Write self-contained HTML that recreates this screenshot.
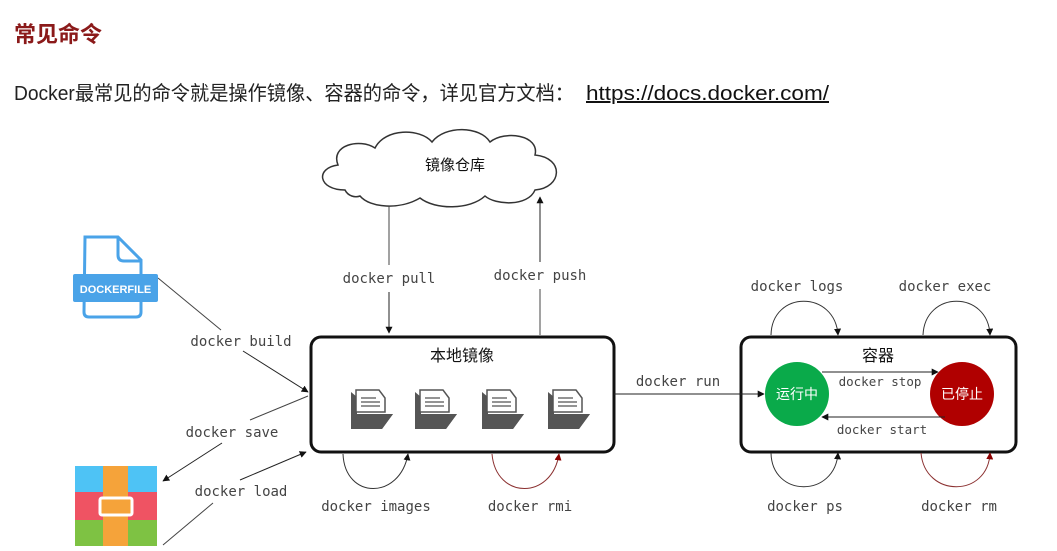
<!DOCTYPE html>
<html><head><meta charset="utf-8"><style>
body{margin:0;background:#fff;width:1057px;height:546px;overflow:hidden;font-family:"Liberation Sans","Noto Sans CJK SC",sans-serif}
</style></head><body>
<svg width="1057" height="546" viewBox="0 0 1057 546" xmlns="http://www.w3.org/2000/svg">
<defs>
<marker id="a" viewBox="0 0 10 10" refX="9" refY="5" markerWidth="7" markerHeight="7" orient="auto"><path d="M0,0L10,5L0,10z" fill="#111"/></marker>
<marker id="r" viewBox="0 0 10 10" refX="9" refY="5" markerWidth="7" markerHeight="7" orient="auto"><path d="M0,0L10,5L0,10z" fill="#8b0000"/></marker>
</defs>
<text x="14" y="42" font-size="22" font-weight="bold" fill="#8b1a1a" font-family="Liberation Sans,Noto Sans CJK SC,sans-serif">常见命令</text>
<text x="14" y="100" font-size="20" fill="#222" font-family="Liberation Sans,Noto Sans CJK SC,sans-serif" textLength="560" lengthAdjust="spacingAndGlyphs">Docker最常见的命令就是操作镜像、容器的命令，详见官方文档：</text>
<text x="586" y="100" font-size="20" fill="#111" text-decoration="underline" font-family="Liberation Sans,sans-serif" textLength="243" lengthAdjust="spacingAndGlyphs">https://docs.docker.com/</text>
<!-- cloud -->
<path d="M345,190 C318,190 315,168 338,165 C330,145 360,138 375,148 C385,128 420,128 432,142 C445,125 480,126 490,142 C505,130 540,135 535,155 C565,158 562,188 535,190 C528,207 495,205 485,196 C470,210 435,210 420,198 C400,210 370,208 360,196 C355,198 348,196 345,190 Z" fill="#fff" stroke="#333" stroke-width="1.5"/>
<text x="455" y="170" font-size="15" text-anchor="middle" fill="#111" font-family="Noto Sans CJK SC,sans-serif">镜像仓库</text>
<g font-family="DejaVu Sans Mono,Liberation Mono,monospace" font-size="14" fill="#444">
<line x1="389" y1="206" x2="389" y2="265" stroke="#444"/><line x1="389" y1="292" x2="389" y2="333" stroke="#222" marker-end="url(#a)"/>
<text x="389" y="283" text-anchor="middle">docker pull</text>
<line x1="540" y1="335" x2="540" y2="289" stroke="#444"/><line x1="540" y1="262" x2="540" y2="197" stroke="#222" marker-end="url(#a)"/>
<text x="540" y="280" text-anchor="middle">docker push</text>
<rect x="311" y="337" width="303" height="115" rx="10" fill="#fff" stroke="#111" stroke-width="3"/>
<text x="462" y="361" font-size="16" text-anchor="middle" fill="#111" font-family="Noto Sans CJK SC,sans-serif">本地镜像</text>
<g id="f"><path d="M351,392 L351,429 L382,429 L393,414 L363,414 L357,426 L357,397 Z" fill="#555"/><path d="M356,390 L356,412 L385,412 L385,398 L379,390 Z" fill="#fff" stroke="#555" stroke-width="1.5"/><path d="M361,398h15M361,402h19M361,406h19" stroke="#555" stroke-width="1.3"/><path d="M357,414 L393,414 L382,429 L351,429 Z" fill="#555"/></g>
<use href="#f" x="64"/><use href="#f" x="131"/><use href="#f" x="197"/>
<line x1="158" y1="278" x2="221" y2="330" stroke="#444"/><line x1="243" y1="351" x2="308" y2="392" stroke="#222" marker-end="url(#a)"/>
<text x="241" y="346" text-anchor="middle">docker build</text>
<line x1="308" y1="396" x2="250" y2="420" stroke="#444"/><line x1="222" y1="443" x2="163" y2="481" stroke="#222" marker-end="url(#a)"/>
<text x="232" y="437" text-anchor="middle">docker save</text>
<line x1="163" y1="545" x2="213" y2="503" stroke="#444"/><line x1="240" y1="480" x2="306" y2="452" stroke="#222" marker-end="url(#a)"/>
<text x="241" y="496" text-anchor="middle">docker load</text>
<path d="M343,454 C345,500 400,500 408,454" fill="none" stroke="#333" marker-end="url(#a)"/>
<text x="376" y="511" text-anchor="middle">docker images</text>
<path d="M492,454 C496,500 552,500 559,454" fill="none" stroke="#8b3030" marker-end="url(#r)"/>
<text x="530" y="511" text-anchor="middle">docker rmi</text>
<rect x="741" y="337" width="275" height="115" rx="10" fill="#fff" stroke="#111" stroke-width="3"/>
<text x="878" y="361" font-size="16" text-anchor="middle" fill="#111" font-family="Noto Sans CJK SC,sans-serif">容器</text>
<circle cx="797" cy="394" r="32" fill="#0aaa4a"/>
<circle cx="962" cy="394" r="32" fill="#b00000"/>
<line x1="614" y1="394" x2="764" y2="394" stroke="#222" marker-end="url(#a)"/>
<text x="678" y="386" text-anchor="middle">docker run</text>
<text x="797" y="399" font-size="14" text-anchor="middle" fill="#fff" font-family="Noto Sans CJK SC,sans-serif">运行中</text>
<text x="962" y="399" font-size="14" text-anchor="middle" fill="#fff" font-family="Noto Sans CJK SC,sans-serif">已停止</text>
<line x1="822" y1="372" x2="938" y2="372" stroke="#222" marker-end="url(#a)"/>
<text x="880" y="386" font-size="12.5" text-anchor="middle">docker stop</text>
<line x1="945" y1="417" x2="822" y2="417" stroke="#222" marker-end="url(#a)"/>
<text x="882" y="434" font-size="12.5" text-anchor="middle">docker start</text>
<path d="M771,335 C772,290 835,290 838,335" fill="none" stroke="#333" marker-end="url(#a)"/>
<text x="797" y="291" text-anchor="middle">docker logs</text>
<path d="M923,335 C925,290 988,290 990,335" fill="none" stroke="#333" marker-end="url(#a)"/>
<text x="945" y="291" text-anchor="middle">docker exec</text>
<path d="M771,453 C772,498 835,498 838,453" fill="none" stroke="#333" marker-end="url(#a)"/>
<text x="805" y="511" text-anchor="middle">docker ps</text>
<path d="M921,453 C925,498 988,498 990,453" fill="none" stroke="#8b3030" marker-end="url(#r)"/>
<text x="959" y="511" text-anchor="middle">docker rm</text>
</g>
<path d="M85,237 H118 L141,260 V312 Q141,317 136,317 H89 Q84,317 84,312 Z" fill="#fff" stroke="#4aa3e8" stroke-width="3"/>
<path d="M118,237 V255 Q118,261 124,261 H141" fill="none" stroke="#4aa3e8" stroke-width="3"/>
<rect x="73" y="274" width="85" height="28" rx="2" fill="#4aa3e8"/>
<text x="115.5" y="293" font-size="11" font-weight="bold" text-anchor="middle" fill="#fff" font-family="Liberation Sans,sans-serif">DOCKERFILE</text>
<rect x="75" y="466" width="82" height="26" fill="#4ec3f5"/>
<rect x="75" y="492" width="82" height="28" fill="#ef5363"/>
<rect x="75" y="520" width="82" height="26" fill="#7ec243"/>
<rect x="103" y="466" width="25" height="80" fill="#f5a33a"/>
<rect x="100" y="498" width="32" height="17" rx="2" fill="#f5a33a" stroke="#fff" stroke-width="3"/>
</svg>
</body></html>
